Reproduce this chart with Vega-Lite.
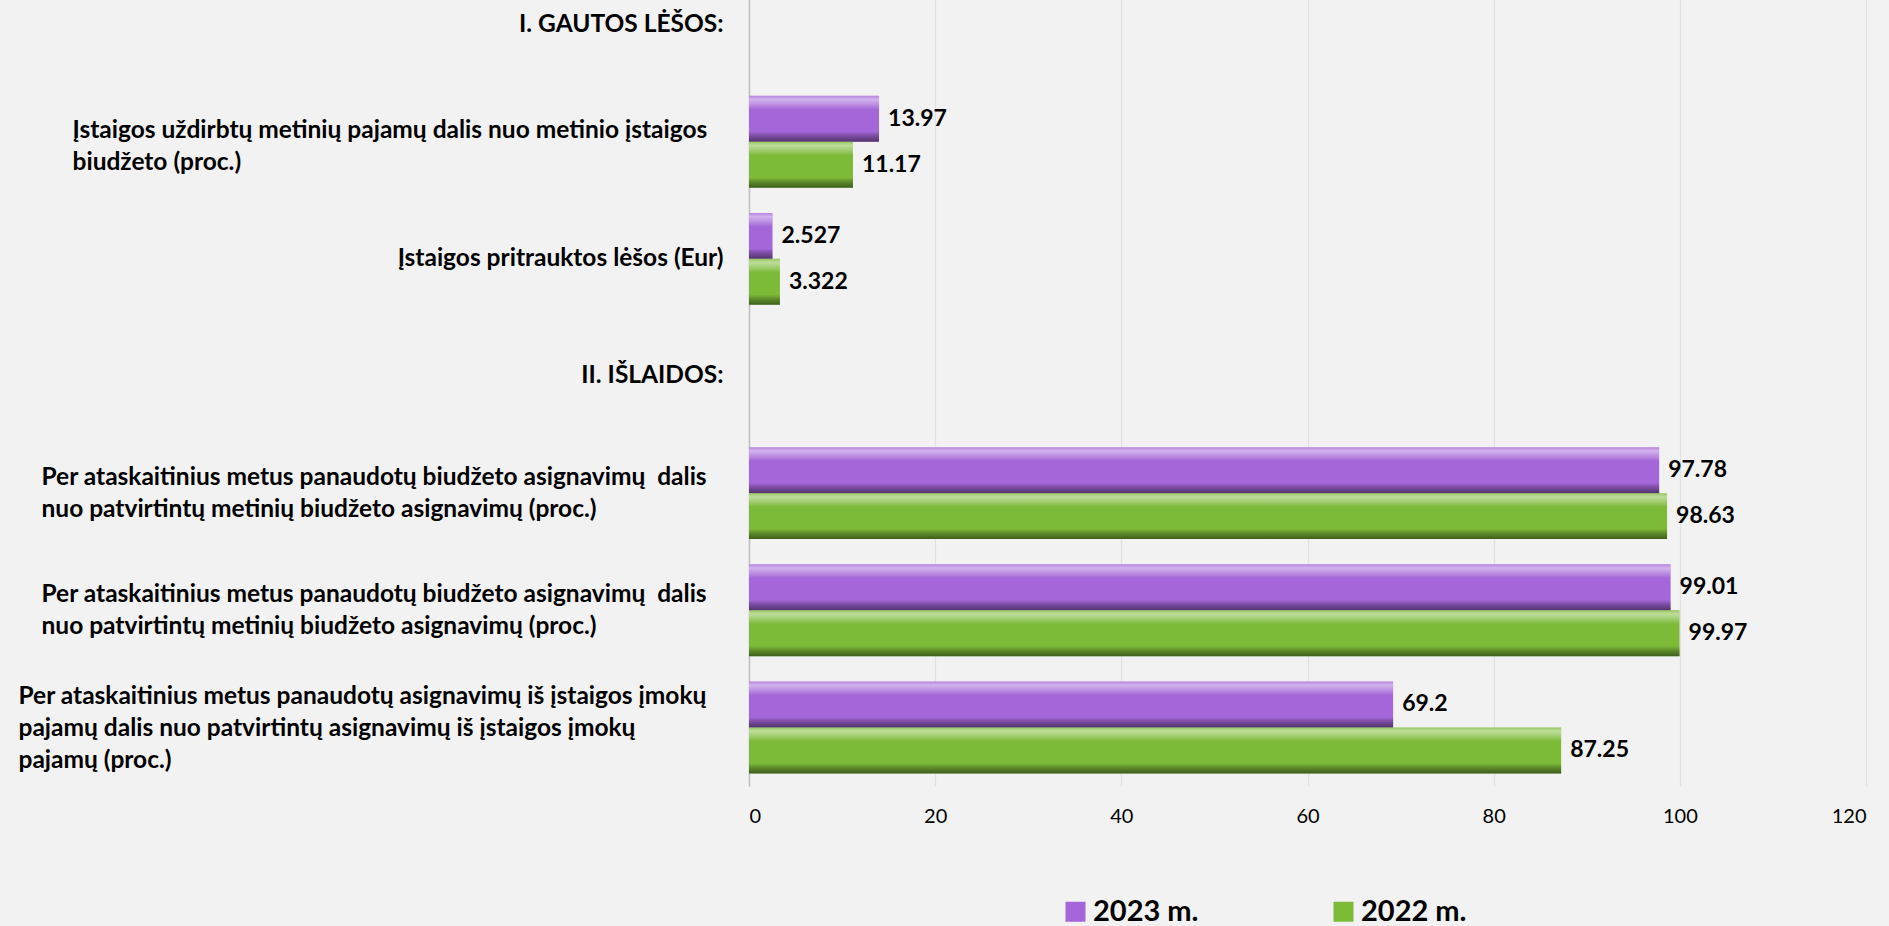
{
  "$schema": "https://vega.github.io/schema/vega-lite/v6.json",
  "autosize": {"type": "none"},
  "width": 1117,
  "height": 820,
  "padding": {"left": 749, "top": -34, "right": 23, "bottom": 140},
  "background": "#F2F2F2",
  "config": {
    "view": {"stroke": null},
    "font": "Lato"
  },
  "data": {
    "values": [
      {"cat": "1|Įstaigos uždirbtų metinių pajamų dalis nuo metinio įstaigos\nbiudžeto (proc.)", "year": "2023 m.", "value": 13.97},
      {"cat": "1|Įstaigos uždirbtų metinių pajamų dalis nuo metinio įstaigos\nbiudžeto (proc.)", "year": "2022 m.", "value": 11.17},
      {"cat": "2|Įstaigos pritrauktos lėšos (Eur)", "year": "2023 m.", "value": 2.527},
      {"cat": "2|Įstaigos pritrauktos lėšos (Eur)", "year": "2022 m.", "value": 3.322},
      {"cat": "4|Per ataskaitinius metus panaudotų biudžeto asignavimų\u00a0 dalis\nnuo patvirtintų metinių biudžeto asignavimų (proc.)", "year": "2023 m.", "value": 97.78},
      {"cat": "4|Per ataskaitinius metus panaudotų biudžeto asignavimų\u00a0 dalis\nnuo patvirtintų metinių biudžeto asignavimų (proc.)", "year": "2022 m.", "value": 98.63},
      {"cat": "5|Per ataskaitinius metus panaudotų biudžeto asignavimų\u00a0 dalis\nnuo patvirtintų metinių biudžeto asignavimų (proc.)", "year": "2023 m.", "value": 99.01},
      {"cat": "5|Per ataskaitinius metus panaudotų biudžeto asignavimų\u00a0 dalis\nnuo patvirtintų metinių biudžeto asignavimų (proc.)", "year": "2022 m.", "value": 99.97},
      {"cat": "6|Per ataskaitinius metus panaudotų asignavimų iš įstaigos įmokų\npajamų dalis nuo patvirtintų asignavimų iš įstaigos įmokų\npajamų (proc.)", "year": "2023 m.", "value": 69.2},
      {"cat": "6|Per ataskaitinius metus panaudotų asignavimų iš įstaigos įmokų\npajamų dalis nuo patvirtintų asignavimų iš įstaigos įmokų\npajamų (proc.)", "year": "2022 m.", "value": 87.25}
    ]
  },
  "encoding": {
    "y": {
      "field": "cat",
      "type": "nominal",
      "scale": {
        "domain": [
          "0|I. GAUTOS LĖŠOS:",
          "1|Įstaigos uždirbtų metinių pajamų dalis nuo metinio įstaigos\nbiudžeto (proc.)",
          "2|Įstaigos pritrauktos lėšos (Eur)",
          "3|II. IŠLAIDOS:",
          "4|Per ataskaitinius metus panaudotų biudžeto asignavimų\u00a0 dalis\nnuo patvirtintų metinių biudžeto asignavimų (proc.)",
          "5|Per ataskaitinius metus panaudotų biudžeto asignavimų\u00a0 dalis\nnuo patvirtintų metinių biudžeto asignavimų (proc.)",
          "6|Per ataskaitinius metus panaudotų asignavimų iš įstaigos įmokų\npajamų dalis nuo patvirtintų asignavimų iš įstaigos įmokų\npajamų (proc.)"
        ],
        "paddingInner": 0.215,
        "paddingOuter": 0.1075
      },
      "axis": {
        "title": null,
        "labelExpr": "split(slice(datum.value, 2), '\\n')",
        "labelFont": "Lato",
        "labelFontSize": 24.5,
        "labelFontWeight": "bold",
        "labelColor": "#000000",
        "labelLineHeight": 32,
        "labelLimit": 0,
        "labelOverlap": false,
        "labelBound": false,
        "ticks": false,
        "tickSize": 0,
        "domain": true,
        "domainColor": "#BFBFBF",
        "domainWidth": 1.5,
        "grid": false,
        "labelAlign": {"condition": {"test": "indexof(datum.value, '\\n') >= 0", "value": "left"}, "value": "right"},
        "labelOffset": {
          "condition": [
            {"test": "slice(datum.value, 0, 1) == '6'", "value": -30},
            {"test": "slice(datum.value, 0, 1) == '1'", "value": -11},
            {"test": "indexof(datum.value, '\\n') >= 0", "value": -15}
          ],
          "value": 0
        },
        "labelPadding": {
          "condition": [
            {"test": "slice(datum.value, 0, 1) == '1'", "value": 677},
            {"test": "slice(datum.value, 0, 1) == '6'", "value": 731},
            {"test": "indexof(datum.value, '\\n') >= 0", "value": 708}
          ],
          "value": 26
        }
      }
    },
    "yOffset": {
      "field": "year",
      "type": "nominal",
      "sort": ["2023 m.", "2022 m."],
      "scale": {"paddingInner": 0, "paddingOuter": 0}
    },
    "x": {
      "field": "value",
      "type": "quantitative",
      "scale": {"domain": [0, 120], "nice": false},
      "axis": {
        "title": null,
        "values": [0, 20, 40, 60, 80, 100, 120],
        "labelFont": "Lato",
        "labelFontSize": 20,
        "labelColor": "#000000",
        "labelPadding": 20,
        "ticks": false,
        "domain": false,
        "grid": true,
        "gridColor": "#E2E2E2",
        "gridWidth": 1.2
      }
    }
  },
  "layer": [
    {
      "mark": {"type": "bar", "strokeWidth": 0},
      "encoding": {
        "color": {
          "field": "year",
          "type": "nominal",
          "scale": {"domain": ["2023 m.", "2022 m."], "range": ["#A466D8", "#7CBA38"]},
          "legend": {
            "title": null,
            "orient": "none",
            "direction": "horizontal",
            "legendX": 312,
            "legendY": 931,
            "padding": 0,
            "symbolType": "square",
            "symbolSize": 400,
            "symbolStrokeWidth": 0,
            "labelFont": "Lato",
            "labelFontSize": 29,
            "labelFontWeight": "bold",
            "labelColor": "#000000",
            "labelOffset": 3,
            "columnPadding": 130,
            "labelLimit": 0
          }
        }
      }
    },
    {
      "mark": {
        "type": "bar",
        "strokeWidth": 0,
        "fill": {
          "gradient": "linear",
          "x1": 0, "y1": 0, "x2": 0, "y2": 1,
          "stops": [
            {"offset": 0, "color": "rgba(255,255,255,0.2)"},
            {"offset": 0.08, "color": "rgba(255,255,255,0.5)"},
            {"offset": 0.2, "color": "rgba(255,255,255,0.25)"},
            {"offset": 0.3, "color": "rgba(255,255,255,0)"},
            {"offset": 0.78, "color": "rgba(0,0,0,0)"},
            {"offset": 0.86, "color": "rgba(0,0,0,0.22)"},
            {"offset": 1, "color": "rgba(0,0,0,0.5)"}
          ]
        }
      }
    },
    {
      "mark": {
        "type": "text",
        "align": "left",
        "baseline": "middle",
        "dx": 9,
        "font": "Lato",
        "fontSize": 23,
        "fontWeight": "bold",
        "color": "#000000"
      },
      "encoding": {
        "text": {"field": "value", "type": "quantitative", "format": ""}
      }
    }
  ]
}
